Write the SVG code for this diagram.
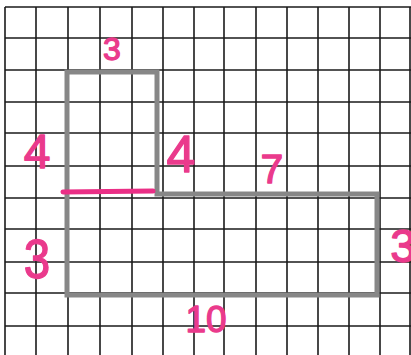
<svg xmlns="http://www.w3.org/2000/svg" width="411" height="355" viewBox="0 0 411 355">
<style>
.grid line{stroke:#1a1a1a;stroke-width:1.6}
.outline{fill:none;stroke:#878787;stroke-width:5;stroke-linejoin:miter}
.mark{stroke:#ea2f86;stroke-width:5;stroke-linecap:round}
.lbl{fill:#ea3a8c;stroke:#ea3a8c;stroke-width:1.3;stroke-linejoin:round;font-family:"Liberation Sans","DejaVu Sans",sans-serif;text-anchor:middle}
</style>
<rect width="411" height="355" fill="#ffffff"/>
<g id="grid" class="grid">
<line x1="5" y1="7" x2="5" y2="355"/>
<line x1="36" y1="7" x2="36" y2="355"/>
<line x1="68" y1="7" x2="68" y2="355"/>
<line x1="100" y1="7" x2="100" y2="355"/>
<line x1="132" y1="7" x2="132" y2="355"/>
<line x1="163" y1="7" x2="163" y2="355"/>
<line x1="194" y1="7" x2="194" y2="355"/>
<line x1="224" y1="7" x2="224" y2="355"/>
<line x1="256" y1="7" x2="256" y2="355"/>
<line x1="287" y1="7" x2="287" y2="355"/>
<line x1="318" y1="7" x2="318" y2="355"/>
<line x1="349" y1="7" x2="349" y2="355"/>
<line x1="380" y1="7" x2="380" y2="355"/>
<line x1="410" y1="7" x2="410" y2="355"/>
<line x1="5" y1="7" x2="411" y2="7"/>
<line x1="5" y1="38" x2="411" y2="38"/>
<line x1="5" y1="70" x2="411" y2="70"/>
<line x1="5" y1="102" x2="411" y2="102"/>
<line x1="5" y1="133" x2="411" y2="133"/>
<line x1="5" y1="166" x2="411" y2="166"/>
<line x1="5" y1="198" x2="411" y2="198"/>
<line x1="5" y1="229" x2="411" y2="229"/>
<line x1="5" y1="262" x2="411" y2="262"/>
<line x1="5" y1="293" x2="411" y2="293"/>
<line x1="5" y1="326" x2="411" y2="326"/>
</g>
<g id="shape">
<path class="outline" d="M67 72 H157 V194 H377 V295 H67 Z"/>
<line class="mark" x1="63" y1="192" x2="153" y2="191"/>
</g>
<g id="labels">
<text class="lbl" x="112" y="60" font-size="32">3</text>
<text class="lbl" x="37" y="168" font-size="48">4</text>
<text class="lbl" x="181" y="172" font-size="52">4</text>
<text class="lbl" x="272" y="183" font-size="41">7</text>
<text class="lbl" x="37" y="278" font-size="56" transform="translate(37 0) scale(0.85 1) translate(-37 0)">3</text>
<text class="lbl" x="403" y="262" font-size="46">3</text>
<text class="lbl" x="206" y="332" font-size="37">10</text>
</g>
</svg>
